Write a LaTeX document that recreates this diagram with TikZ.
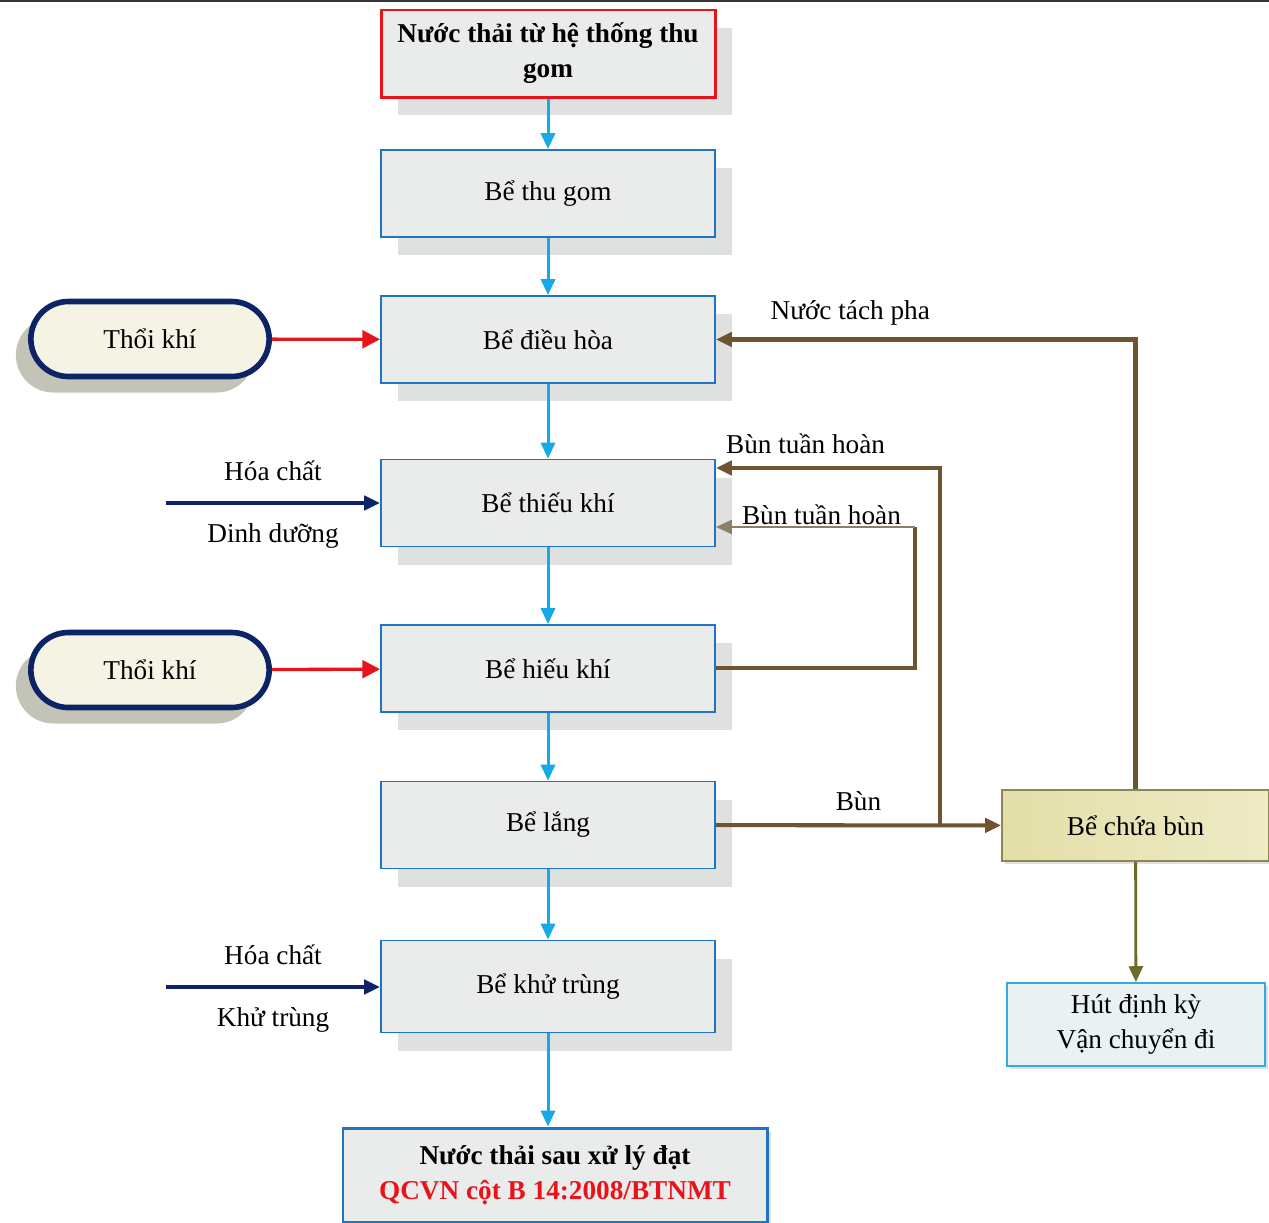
\documentclass[tikz,border=0pt]{standalone}
\usepackage{fontspec}
\setmainfont{Liberation Serif}
\usetikzlibrary{arrows.meta,shadows,shapes.misc}
\definecolor{boxblue}{HTML}{1F74C6}
\definecolor{boxgray}{HTML}{EAEBEB}
\definecolor{shadegray}{HTML}{DFE1E0}
\definecolor{flowblue}{HTML}{17A8E8}
\definecolor{airred}{HTML}{E8141B}
\definecolor{navy}{HTML}{0C2366}
\definecolor{airfill}{HTML}{F5F3E4}
\definecolor{airshade}{HTML}{C4C3B8}
\definecolor{mud}{HTML}{6E5431}
\definecolor{mudlight}{HTML}{8C7F6A}
\definecolor{olive}{HTML}{6E6A28}
\definecolor{khaki}{HTML}{E3DEA8}
\definecolor{khakilight}{HTML}{EEEBC6}
\definecolor{suckblue}{HTML}{35A9E0}
\definecolor{suckfill}{HTML}{EAF1F3}

\begin{document}
\begin{tikzpicture}[>={Triangle[length=9pt,width=8pt]}, font=\fontsize{15.5}{20}\selectfont,
    tankbase/.style={draw=boxblue, line width=1.1pt, fill=boxgray, minimum width=6.68cm, minimum height=1.74cm, align=center},
    tank/.style={tankbase, drop shadow={shadow xshift=.34cm, shadow yshift=-.36cm, fill=shadegray, opacity=1}},
    air/.style={rounded rectangle, draw=navy, line width=3.2pt, fill=airfill, minimum width=5cm, minimum height=1.5cm,
        drop shadow={shadow xshift=-.3cm, shadow yshift=-.32cm, fill=airshade, opacity=1}},
    flow/.style={->, draw=flowblue, line width=1.7pt},
    blow/.style={-{Triangle[length=10pt,width=10pt]}, draw=airred, line width=1.9pt},
    dose/.style={->, draw=navy, line width=2.3pt},
    sludge/.style={draw=mud, line width=2.3pt},
    tag/.style={above=6pt, inner sep=1pt}]

    \useasboundingbox (0,0) rectangle (25.38,-24.44);
    \draw [line width=1.2pt, draw=black!80] (0,-.02)--(25.38,-.02);

    % main line
    \node [tank, draw=airred, line width=1.7pt, font=\fontsize{15.5}{20}\selectfont\bfseries] (vao) at (10.96,-1.07) {Nước thải từ hệ thống thu\\gom};
    \node [tank] (thugom) at (10.96,-3.87) {Bể thu gom};
    \node [tank] (dieuhoa) at (10.96,-6.79) {Bể điều hòa};
    \node [tank] (thieukhi) at (10.96,-10.06) {Bể thiếu khí};
    \node [tank] (hieukhi) at (10.96,-13.37) {Bể hiếu khí};
    \node [tank] (lang) at (10.96,-16.5) {Bể lắng};
    \node [tank, minimum height=1.84cm] (khutrung) at (10.96,-19.73) {Bể khử trùng};
    \node [tankbase, line width=1.7pt, minimum width=8.48cm, minimum height=1.88cm, font=\fontsize{15.5}{20}\selectfont\bfseries,
        drop shadow={shadow xshift=.08cm, shadow yshift=-.08cm, fill=shadegray, opacity=1}] (ra) at (11.1,-23.5)
        {Nước thải sau xử lý đạt\\\textcolor{airred}{QCVN cột B 14:2008/BTNMT}};

    \draw [flow] (vao)--(thugom);
    \draw [flow] (thugom)--(dieuhoa);
    \draw [flow] (dieuhoa)--(thieukhi);
    \draw [flow] (thieukhi)--(hieukhi);
    \draw [flow] (hieukhi)--(lang);
    \draw [flow] (lang)--(khutrung);
    \draw [flow] (khutrung.south)--(khutrung.south |- ra.north);

    % air and chemicals
    \node [air] (thoi1) at (3.0,-6.78) {Thổi khí};
    \node [air] (thoi2) at (3.0,-13.4) {Thổi khí};
    \draw [blow] (thoi1)--(dieuhoa);
    \draw [blow] (thoi2)--(hieukhi);

    \coordinate (hc1) at (3.32,-10.06);
    \coordinate (hc2) at (3.32,-19.74);
    \draw [dose] (hc1)--node [above=8pt]{Hóa chất} node [below=7pt]{Dinh dưỡng} (thieukhi);
    \draw [dose] (hc2)--node [above=8pt]{Hóa chất} node [below=7pt]{Khử trùng} (thieukhi.west |- hc2);

    % sludge
    \node [draw=olive!80, line width=1.1pt, left color=khaki, right color=khakilight, minimum width=5.34cm, minimum height=1.42cm,
        drop shadow={shadow xshift=.06cm, shadow yshift=-.06cm, fill=shadegray, opacity=1}] (chuabun) at (22.71,-16.51) {Bể chứa bùn};
    \node [draw=suckblue, line width=1.1pt, fill=suckfill, minimum width=5.16cm, minimum height=1.66cm, align=center,
        drop shadow={shadow xshift=.06cm, shadow yshift=-.06cm, fill=shadegray, opacity=1}] (hut) at (22.72,-20.49) {Hút định kỳ\\Vận chuyển đi};

    \coordinate (nga) at (18.8,-16.5);
    \coordinate (goc) at (18.3,-13.36);
    \draw [sludge, ->] (lang)--node [tag]{Bùn} (chuabun);
    \draw [sludge, ->] (nga)|-node [tag, pos=.8]{Bùn tuần hoàn} ([yshift=.7cm]thieukhi.east);
    \draw [sludge] (hieukhi.east |- goc)--(goc)--(18.3,-10.54);
    \draw [->, draw=mudlight, line width=1pt] (18.3,-10.54)--node [above=0pt, inner sep=1pt, pos=.47]{Bùn tuần hoàn} ([yshift=-.48cm]thieukhi.east);
    \draw [sludge, ->] (chuabun)|-node [tag, pos=.84]{Nước tách pha} (dieuhoa);
    \draw [->, draw=olive, line width=1.6pt] (chuabun)--(hut);

\end{tikzpicture}
\end{document}
